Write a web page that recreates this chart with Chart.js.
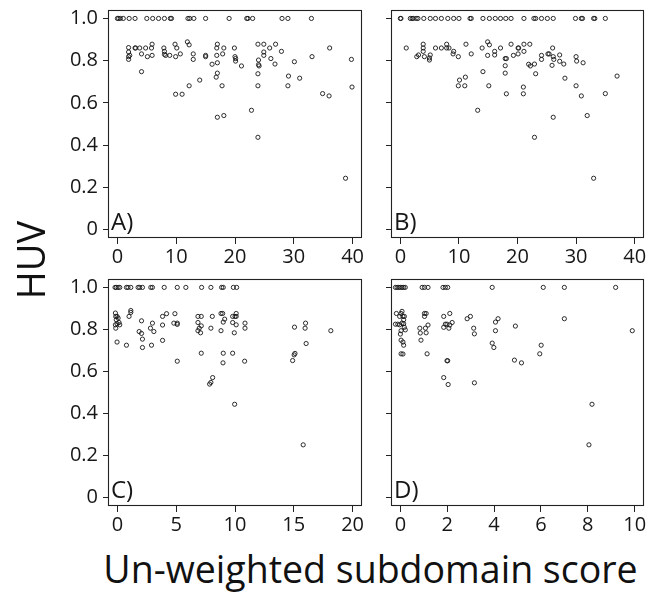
<!DOCTYPE html>
<html>
<head>
<meta charset="utf-8">
<script src="https://cdn.jsdelivr.net/npm/chart.js@4/dist/chart.umd.min.js"></script>
<style>
  html, body { margin:0; padding:0; background:#fff; }
  #wrap { position:relative; width:661px; height:592px; overflow:hidden; background:#fff; }
  canvas { position:absolute; }
  .ytitle { position:absolute; width:200px; height:38px; line-height:38px; left:-70px; top:241px;
            transform:rotate(-90deg); text-align:center; font-family:"Open Sans"; font-size:38px; color:#111; }
  .xtitle { position:absolute; left:0; width:741px; top:550px; line-height:37.5px; text-align:center;
            font-family:"Open Sans"; font-size:37.5px; color:#111; white-space:nowrap; }
</style>
</head>
<body>
<div id="wrap">
  <canvas id="cA" width="370" height="270" style="left:0;top:0"></canvas>
  <canvas id="cB" width="291" height="270" style="left:370px;top:0"></canvas>
  <canvas id="cC" width="370" height="270" style="left:0;top:270px"></canvas>
  <canvas id="cD" width="291" height="270" style="left:370px;top:270px"></canvas>
  <div class="ytitle">HUV</div>
  <div class="xtitle">Un-weighted subdomain score</div>
</div>
<script>
// ---------- data ----------
const panelLabels = ['A)', 'B)', 'C)', 'D)'];
const yTickValues = [0, 0.2, 0.4, 0.6, 0.8, 1.0];
const yTickLabels = ['0', '0.2', '0.4', '0.6', '0.8', '1.0'];
const xTicksA = [0, 10, 20, 30, 40];
const xTicksB = [0, 10, 20, 30, 40];
const xTicksC = [0, 5, 10, 15, 20];
const xTicksD = [0, 2, 4, 6, 8, 10];

// Panel A
const aX = [0,0.2,0.5,1,2,3,5,6,7,8,9,9.2,12,12.3,13,15,19,22,22.2,23,28,29,33,
  1.9,1.9,1.9,1.9,2.1,3,3.1,3.8,4.1,4.1,4.8,5.1,5.8,5.9,5.9,7.9,8,8,8.2,8.9,9.8,10.1,9.9,9.9,
  10.7,11,11.9,12.2,12.2,12.9,12.9,14,15,15,16.1,16.9,17,16.9,17,17,16.8,17,17.8,17.9,18.1,18.1,
  19.9,20,20.1,20.1,21.1,22.8,23.9,24,24,24.1,23.9,23.9,23.9,24.9,24.9,24.9,25.9,26.1,26.8,26.9,
  27.9,29.1,29,30.1,31,33.1,34.9,36,36.1,39.8,39.9,38.8];
const aY = [1,1,1,1,1,1,1,1,1,1,1,1,1,1,1,1,1,1,1,1,1,1,1,
  0.862,0.841,0.819,0.806,0.825,0.860,0.860,0.860,0.832,0.748,0.860,0.819,0.860,0.878,0.825,0.860,0.844,0.830,0.825,0.825,0.878,0.860,0.819,0.641,
  0.832,0.641,0.889,0.875,0.681,0.832,0.806,0.708,0.825,0.819,0.783,0.860,0.878,0.825,0.790,0.741,0.722,0.532,0.681,0.832,0.860,0.540,
  0.860,0.819,0.810,0.798,0.775,0.565,0.878,0.803,0.781,0.775,0.738,0.681,0.437,0.878,0.841,0.825,0.860,0.810,0.784,0.878,
  0.844,0.727,0.681,0.795,0.717,0.819,0.644,0.633,0.860,0.806,0.675,0.243];

// Panel B
const bX = [0,0.1,1.7,2,2.2,2.7,3,4,5.1,6,7,8.1,9.1,10,11.9,12.1,14.1,15.2,16.2,17.1,18,18.9,21.1,22.8,23.1,24.1,25.1,26.1,29.9,30.9,31.1,33,33.2,35,
  1,2.8,3.1,3.9,3.9,3.9,4.1,4.96,4.96,5.1,6,7,7.9,7.9,8.3,9.1,9,9.9,10.1,9.9,11.1,11,11.2,12.1,13.96,14.1,13.2,
  14.9,15.2,14.9,15.1,16.1,16.1,17.1,17.9,18.1,17.9,17.9,18.1,18.9,19.3,20.1,20.2,20.1,21.1,21.1,21,21,
  22.1,21.9,22.2,22.9,23.1,22.9,24.1,24.1,25.2,25.4,26,26.1,26.2,25.9,26.1,27.2,27.2,27.9,28.1,
  30,30.1,30,31.2,30.9,31.9,33,35,37];
const bY = [1,1,1,1,1,1,1,1,1,1,1,1,1,1,1,1,1,1,1,1,1,1,1,1,1,1,1,1,1,1,1,1,1,1,
  0.860,0.819,0.827,0.878,0.860,0.844,0.819,0.813,0.803,0.827,0.860,0.860,0.878,0.860,0.860,0.844,0.832,0.819,0.708,0.681,0.722,0.681,0.878,0.832,0.860,0.748,0.565,
  0.889,0.875,0.825,0.681,0.844,0.827,0.860,0.810,0.810,0.776,0.741,0.643,0.878,0.825,0.860,0.860,0.832,0.878,0.844,0.675,0.643,
  0.878,0.783,0.775,0.784,0.738,0.437,0.825,0.806,0.832,0.832,0.860,0.819,0.806,0.778,0.532,0.827,0.797,0.784,0.717,
  0.819,0.798,0.681,0.790,0.633,0.540,0.243,0.644,0.727];

// Panel C
const cX = [-0.2,-0.1,0.06,0.2,0.77,0.9,1.14,1.76,1.9,2.13,2.84,2.98,3.98,5.09,5.82,7.16,7.95,8.86,9,9.86,10.14,
  -0.17,-0.14,-0.03,0.06,-0.1,-0.17,-0.14,-0.03,0.14,0.2,-0.03,0.77,0.99,1.14,1.14,
  2.05,1.85,2.05,2.13,2.13,2.81,2.98,3.1,2.9,3.84,3.84,4.18,3.84,4.89,4.8,5.09,5.09,5.09,
  6.85,7.13,6.85,6.85,6.96,7.13,7.07,7.13,8.07,7.95,7.84,7.95,8.1,
  8.81,8.95,8.81,9.12,9,9,8.98,9.8,9.8,9.8,10.1,10.1,10,10.1,9.94,9.97,10.85,10.85,10.82,
  14.9,15.03,15.1,15.06,16,15.96,16.05,15.8,18.15];
const cY = [1,1,1,1,1,1,1,1,1,1,1,1,1,1,1,1,1,1,1,1,1,
  0.878,0.862,0.862,0.854,0.846,0.822,0.806,0.827,0.833,0.822,0.740,0.725,0.862,0.881,0.890,
  0.841,0.790,0.781,0.754,0.714,0.806,0.830,0.790,0.725,0.862,0.821,0.875,0.748,0.875,0.830,0.830,0.824,0.649,
  0.862,0.862,0.833,0.794,0.806,0.817,0.784,0.687,0.862,0.806,0.540,0.548,0.571,
  0.876,0.876,0.794,0.849,0.835,0.687,0.641,0.862,0.833,0.687,0.876,0.862,0.862,0.822,0.784,0.444,0.830,0.806,0.649,
  0.652,0.679,0.686,0.811,0.830,0.806,0.733,0.251,0.794];

// Panel D
const dX = [-0.21,-0.14,-0.07,0,0.07,0.14,0.21,0.93,1.03,1.18,1.82,1.92,2.02,3.92,6.1,7.0,9.19,
  -0.17,-0.21,-0.11,-0.03,0.03,0.07,0.11,0.17,0.14,-0.03,0.07,0.14,0.17,0.21,0.03,0,0.03,0.11,0.14,0.03,0.11,
  0.83,0.85,0.88,1.03,1.1,1.03,1.07,1.1,1.18,1.14,
  1.85,1.85,1.92,1.99,2.07,2.11,2.11,2.21,1.99,2.02,1.85,2.04,
  2.85,2.99,3.13,3.16,3.16,3.92,3.99,4.06,4.06,4.17,4.91,4.87,5.17,5.95,6.01,7.0,8.18,8.05,9.9];
const dY = [1,1,1,1,1,1,1,1,1,1,1,1,1,1,1,1,1,
  0.876,0.825,0.825,0.862,0.876,0.886,0.862,0.862,0.846,0.822,0.830,0.827,0.810,0.798,0.794,0.778,0.749,0.740,0.725,0.684,0.683,
  0.806,0.783,0.749,0.876,0.876,0.862,0.806,0.784,0.821,0.684,
  0.862,0.810,0.825,0.825,0.806,0.876,0.821,0.833,0.651,0.651,0.571,0.538,
  0.851,0.862,0.806,0.779,0.546,0.735,0.714,0.794,0.835,0.851,0.816,0.654,0.641,0.684,0.725,0.851,0.444,0.251,0.794];

// ---------- drawing ----------
const TICK_FONT = { family: '"Open Sans"', size: 20 };
const INK = '#161616';

function boxPlugin(label) {
  return {
    id: 'box_' + label,
    afterDraw(chart) {
      const { left, top, right, bottom } = chart.chartArea;
      const ctx = chart.ctx;
      ctx.save();
      ctx.strokeStyle = '#222';
      ctx.lineWidth = 1.1;
      ctx.strokeRect(left + 0.5, top + 0.5, right - left - 1, bottom - top - 1);
      ctx.fillStyle = INK;
      ctx.font = '24px "Open Sans"';
      ctx.textBaseline = 'alphabetic';
      ctx.textAlign = 'left';
      ctx.fillText(label, left + 3, bottom - 8);
      ctx.restore();
    }
  };
}

function makePanel(id, xs, ys, xTicks, xMin, xMax, label, opt) {
  const pts = xs.map((x, i) => ({ x: x, y: ys[i] }));
  new Chart(document.getElementById(id), {
    type: 'scatter',
    data: { datasets: [{
      data: pts,
      pointRadius: 2.1,
      pointHoverRadius: 2.1,
      borderWidth: 0.9,
      borderColor: INK,
      backgroundColor: 'rgba(0,0,0,0)'
    }]},
    options: {
      responsive: false,
      animation: false,
      events: [],
      layout: { padding: { left: 0, top: opt.padTop, right: opt.padRight, bottom: 0 } },
      plugins: { legend: { display: false }, tooltip: { enabled: false } },
      scales: {
        x: {
          type: 'linear', min: xMin, max: xMax,
          afterBuildTicks: s => { s.ticks = xTicks.map(v => ({ value: v })); },
          afterFit: s => { s.height = opt.xAxisH; s.paddingLeft = 0; s.paddingRight = 0; s.paddingTop = 0; s.paddingBottom = 0; },
          grid: { display: true, drawOnChartArea: false, drawTicks: true, tickLength: 6, color: '#222', lineWidth: 1 },
          border: { display: false },
          ticks: { font: TICK_FONT, color: INK, padding: 1, maxRotation: 0, autoSkip: false,
                   callback: v => String(v) }
        },
        y: {
          type: 'linear', min: -0.04, max: 1.04,
          afterBuildTicks: s => { s.ticks = yTickValues.map(v => ({ value: v })); },
          afterFit: s => { s.width = opt.yAxisW; s.paddingLeft = 0; s.paddingRight = 0; s.paddingTop = 0; s.paddingBottom = 0; },
          grid: { display: true, drawOnChartArea: false, drawTicks: true, tickLength: 5, color: '#222', lineWidth: 1 },
          border: { display: false },
          ticks: { display: opt.showY, font: TICK_FONT, color: INK, padding: 5, autoSkip: false,
                   callback: v => yTickLabels[yTickValues.findIndex(t => Math.abs(t - v) < 1e-9)] }
        }
      }
    },
    plugins: [boxPlugin(label)]
  });
}

makePanel('cA', aX, aY, xTicksA, -1.6, 41.6, panelLabels[0],
  { padTop: 10, padRight: 8, xAxisH: 32, yAxisW: 108, showY: true });
makePanel('cB', bX, bY, xTicksB, -1.6, 41.6, panelLabels[1],
  { padTop: 10, padRight: 17, xAxisH: 32, yAxisW: 21, showY: false });
makePanel('cC', cX, cY, xTicksC, -0.8, 20.8, panelLabels[2],
  { padTop: 9, padRight: 8, xAxisH: 34, yAxisW: 108, showY: true });
makePanel('cD', dX, dY, xTicksD, -0.4, 10.4, panelLabels[3],
  { padTop: 9, padRight: 17, xAxisH: 34, yAxisW: 21, showY: false });
</script>
</body>
</html>
